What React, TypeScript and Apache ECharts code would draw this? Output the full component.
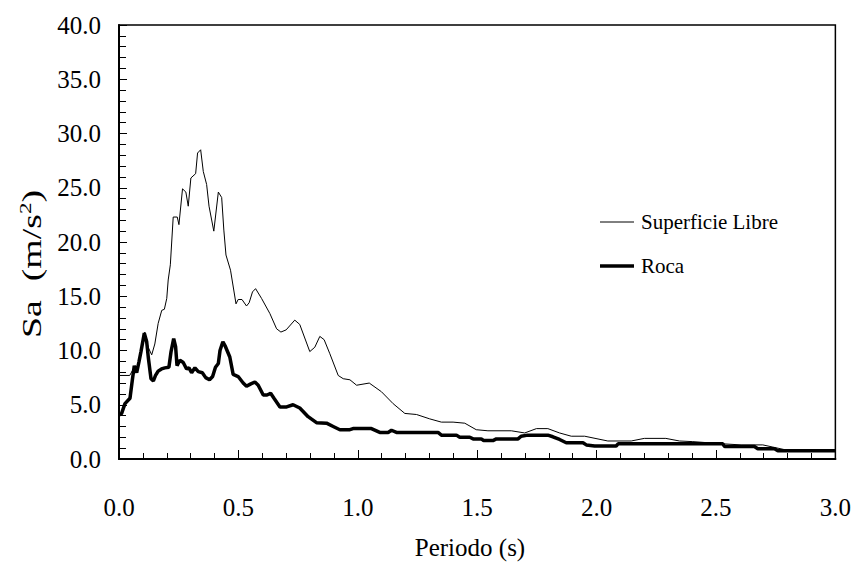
import React, { useEffect, useRef } from "react";
import * as echarts from "echarts";

const periodLibre = [0, 0.045, 0.06, 0.075, 0.09, 0.108, 0.122, 0.137, 0.15, 0.164, 0.179, 0.19, 0.2, 0.206, 0.215, 0.227, 0.244, 0.251, 0.266, 0.28, 0.29, 0.301, 0.321, 0.329, 0.342, 0.353, 0.367, 0.377, 0.397, 0.416, 0.43, 0.439, 0.448, 0.467, 0.49, 0.499, 0.515, 0.534, 0.545, 0.559, 0.572, 0.597, 0.632, 0.66, 0.678, 0.7, 0.736, 0.757, 0.799, 0.82, 0.841, 0.859, 0.883, 0.918, 0.939, 0.967, 0.995, 1.048, 1.099, 1.148, 1.197, 1.246, 1.301, 1.35, 1.399, 1.448, 1.496, 1.545, 1.643, 1.699, 1.748, 1.796, 1.845, 1.894, 1.95, 2.047, 2.145, 2.2, 2.29, 2.347, 2.403, 2.528, 2.605, 2.696, 2.738, 2.794, 3.0];
const saLibre = [7.7, 7.7, 8.3, 8.1, 9.6, 11.7, 10.3, 9.6, 10.6, 12.5, 13.7, 13.8, 14.8, 16.5, 17.9, 22.3, 22.3, 21.6, 24.9, 24.6, 23.3, 25.9, 26.3, 28.2, 28.5, 26.5, 25.3, 23.3, 21.0, 24.6, 24.1, 21.1, 18.8, 17.4, 14.3, 14.7, 14.7, 14.1, 14.4, 15.4, 15.7, 14.8, 13.4, 12.0, 11.7, 11.9, 12.8, 12.4, 9.9, 10.3, 11.3, 11.0, 9.7, 7.7, 7.4, 7.3, 6.8, 7.0, 6.2, 5.1, 4.2, 4.1, 3.7, 3.4, 3.4, 3.3, 2.7, 2.6, 2.6, 2.4, 2.8, 2.8, 2.4, 2.1, 2.1, 1.66, 1.66, 1.9, 1.9, 1.66, 1.6, 1.4, 1.3, 1.3, 1.1, 0.83, 0.83];

const periodRoca = [0, 0.011, 0.025, 0.046, 0.056, 0.064, 0.074, 0.084, 0.092, 0.106, 0.116, 0.123, 0.134, 0.144, 0.153, 0.164, 0.178, 0.192, 0.209, 0.218, 0.229, 0.237, 0.243, 0.255, 0.269, 0.283, 0.293, 0.304, 0.318, 0.332, 0.349, 0.363, 0.379, 0.392, 0.404, 0.416, 0.423, 0.435, 0.446, 0.464, 0.478, 0.499, 0.52, 0.534, 0.55, 0.569, 0.583, 0.604, 0.62, 0.635, 0.649, 0.674, 0.702, 0.729, 0.757, 0.792, 0.827, 0.869, 0.897, 0.925, 0.967, 0.98, 1.057, 1.092, 1.127, 1.141, 1.162, 1.336, 1.35, 1.413, 1.427, 1.469, 1.483, 1.517, 1.527, 1.566, 1.58, 1.671, 1.684, 1.712, 1.796, 1.817, 1.845, 1.873, 1.943, 1.957, 1.992, 2.082, 2.09, 2.528, 2.536, 2.661, 2.675, 2.745, 2.759, 3.0];
const saRoca = [4.05, 4.2, 5.1, 5.6, 7.3, 8.6, 7.95, 9.0, 9.9, 11.6, 10.8, 9.3, 7.4, 7.2, 7.7, 8.1, 8.3, 8.4, 8.45, 9.9, 11.1, 10.35, 8.6, 9.1, 8.9, 8.3, 8.4, 7.95, 8.4, 8.05, 7.95, 7.5, 7.3, 7.6, 8.45, 8.8, 10.0, 10.8, 10.35, 9.4, 7.8, 7.6, 7.0, 6.7, 6.9, 7.1, 6.8, 5.9, 5.9, 6.05, 5.6, 4.8, 4.8, 5.0, 4.7, 3.9, 3.35, 3.3, 3.0, 2.7, 2.7, 2.8, 2.8, 2.45, 2.45, 2.65, 2.45, 2.45, 2.2, 2.2, 2.0, 2.0, 1.85, 1.85, 1.7, 1.7, 1.85, 1.85, 2.1, 2.2, 2.2, 2.05, 1.8, 1.5, 1.5, 1.3, 1.2, 1.2, 1.4, 1.4, 1.15, 1.15, 0.95, 0.95, 0.77, 0.77];

const seriesNames = ["Superficie Libre", "Roca"];
const xTitle = "Periodo (s)";

const FONT = "Liberation Serif";

export default function App() {
  const ref = useRef<HTMLDivElement>(null);
  useEffect(() => {
    document.body.style.margin = "0";
    const chart = echarts.init(ref.current!, null, { renderer: "svg" });
    const zip = (xs: number[], ys: number[]) => xs.map((x, i) => [x, ys[i]]);
    chart.setOption({
      animation: false,
      backgroundColor: "#ffffff",
      textStyle: { fontFamily: FONT, color: "#000" },
      grid: {
        left: 119,
        right: 18,
        top: 25,
        bottom: 104,
        show: true,
        borderColor: "#000",
        borderWidth: 1.5,
        backgroundColor: "transparent",
      },
      xAxis: {
        type: "value",
        min: 0,
        max: 3,
        interval: 0.5,
        axisLine: { show: true, lineStyle: { color: "#000", width: 2 } },
        axisTick: { show: true, inside: true, length: 9, lineStyle: { color: "#000", width: 1 } },
        minorTick: { show: true, splitNumber: 5, length: 6, lineStyle: { color: "#000", width: 1 } },
        splitLine: { show: false },
        axisLabel: {
          fontFamily: FONT,
          fontSize: 25,
          color: "#000",
          margin: 36,
          formatter: (v: number) => v.toFixed(1),
        },
      },
      yAxis: {
        type: "value",
        min: 0,
        max: 40,
        interval: 5,
        axisLine: { show: true, lineStyle: { color: "#000", width: 2 } },
        axisTick: { show: true, inside: true, length: 8, lineStyle: { color: "#000", width: 1 } },
        minorTick: { show: true, splitNumber: 5, length: 7, lineStyle: { color: "#000", width: 1 } },
        splitLine: { show: false },
        axisLabel: {
          fontFamily: FONT,
          fontSize: 25,
          color: "#000",
          margin: 18,
          formatter: (v: number) => v.toFixed(1),
        },
      },
      graphic: [
        {
          type: "text",
          x: 31,
          y: 264,
          rotation: Math.PI / 2,
          scaleX: 1.35,
          style: {
            text: "{a|Sa  (m/s}{b|2}{a|)}",
            align: "center",
            verticalAlign: "middle",
            fill: "#000",
            rich: {
              a: { fontFamily: FONT, fontSize: 28, fill: "#000", color: "#000" },
              b: { fontFamily: FONT, fontSize: 17, fill: "#000", color: "#000", verticalAlign: "top", padding: [0, 0, 12, 0] },
            },
          },
        },
        {
          type: "text",
          x: 470,
          y: 547,
          style: {
            text: xTitle,
            align: "center",
            verticalAlign: "middle",
            fill: "#000",
            fontFamily: FONT,
            fontSize: 25,
          },
        },
        { type: "line", shape: { x1: 600, y1: 222, x2: 634, y2: 222 }, style: { stroke: "#000", lineWidth: 1 } },
        {
          type: "text",
          x: 641,
          y: 222,
          style: { text: seriesNames[0], verticalAlign: "middle", fill: "#000", fontFamily: FONT, fontSize: 21 },
        },
        { type: "line", shape: { x1: 600, y1: 266, x2: 634, y2: 266 }, style: { stroke: "#000", lineWidth: 3.5 } },
        {
          type: "text",
          x: 641,
          y: 266,
          style: { text: seriesNames[1], verticalAlign: "middle", fill: "#000", fontFamily: FONT, fontSize: 21 },
        },
      ],
      series: [
        {
          name: seriesNames[0],
          type: "line",
          data: zip(periodLibre, saLibre),
          showSymbol: false,
          symbol: "none",
          lineStyle: { color: "#000", width: 1 },
          itemStyle: { color: "#000" },
        },
        {
          name: seriesNames[1],
          type: "line",
          data: zip(periodRoca, saRoca),
          showSymbol: false,
          symbol: "none",
          lineStyle: { color: "#000", width: 3.5 },
          itemStyle: { color: "#000" },
        },
      ],
    });
    return () => chart.dispose();
  }, []);
  return <div ref={ref} style={{ width: 854, height: 563 }} />;
}
